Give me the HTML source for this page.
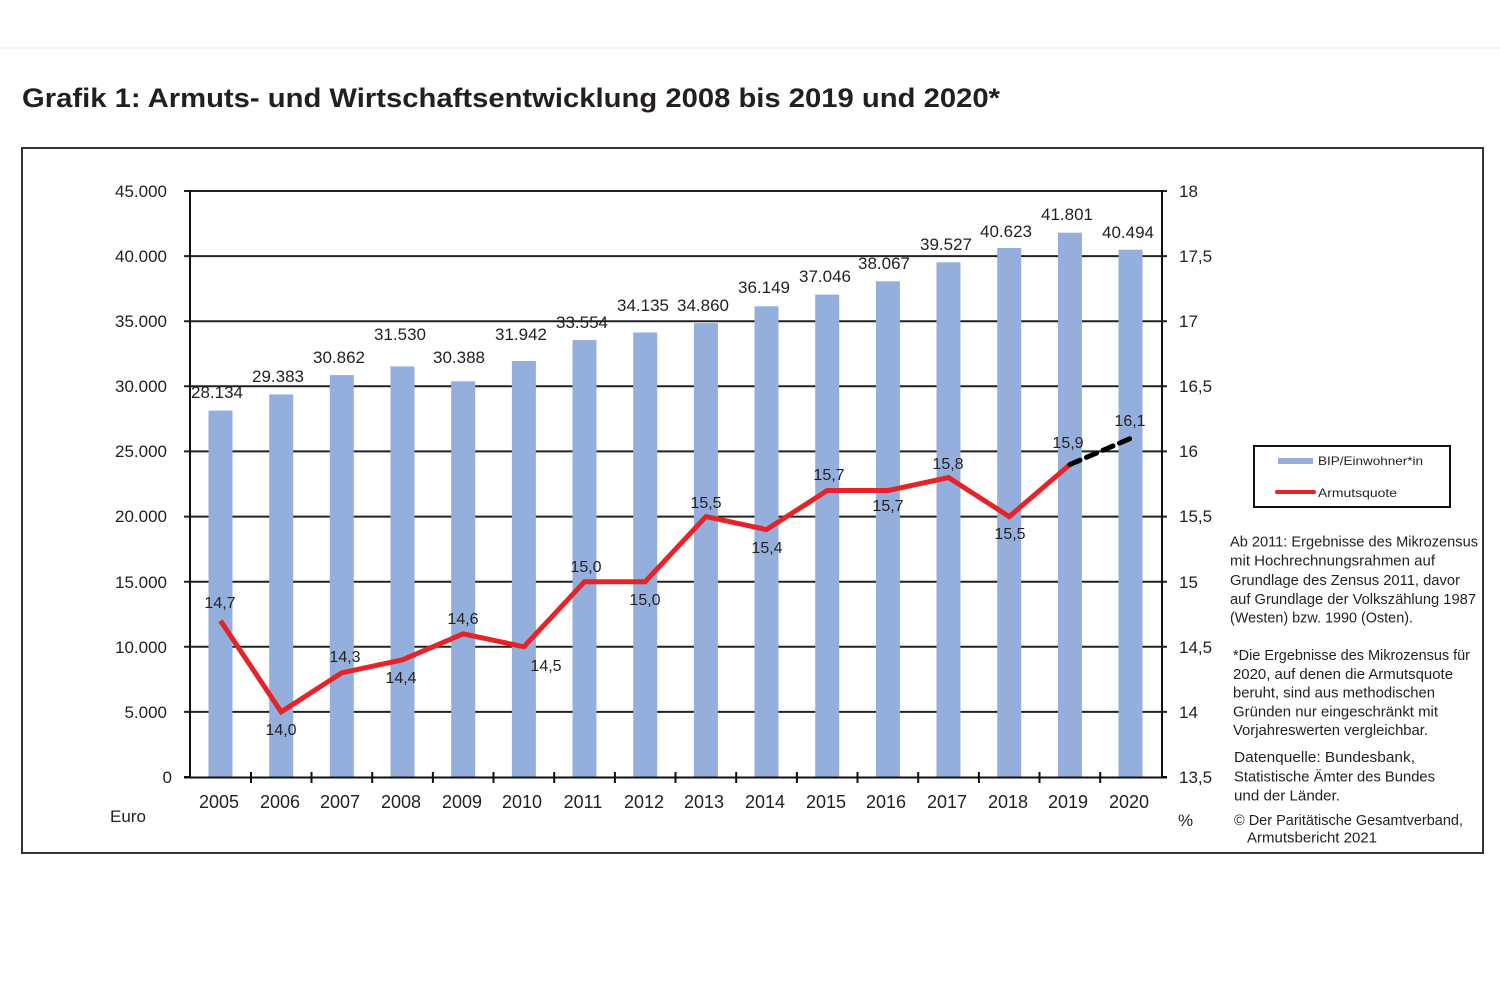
<!DOCTYPE html>
<html>
<head>
<meta charset="utf-8">
<style>
html,body{margin:0;padding:0;background:#fff;}
svg{display:block;}
text{font-family:"Liberation Sans",sans-serif;fill:#231f20;}
.ax{font-size:17px;}
.yr{font-size:18px;}
.val{font-size:17px;}
.pct{font-size:16px;fill:#2a3444;}
.note{font-size:14.5px;}
.leg{font-size:12px;}
</style>
</head>
<body>
<svg width="1500" height="998" viewBox="0 0 1500 998" xmlns="http://www.w3.org/2000/svg">
<rect x="0" y="0" width="1500" height="998" fill="#fff"/>
<line x1="0" y1="48" x2="1500" y2="48" stroke="#f6f6f6" stroke-width="2"/>
<!-- Title -->
<text x="22" y="107" font-size="27" font-weight="bold" textLength="978" lengthAdjust="spacingAndGlyphs">Grafik 1: Armuts- und Wirtschaftsentwicklung 2008 bis  2019 und 2020*</text>
<!-- Outer box -->
<rect x="22" y="148" width="1461" height="705" fill="none" stroke="#333" stroke-width="2"/>

<!-- gridlines -->
<g stroke="#222" stroke-width="2">
<line x1="184" y1="191" x2="1167" y2="191"/>
<line x1="184" y1="256.1" x2="1167" y2="256.1"/>
<line x1="184" y1="321.2" x2="1167" y2="321.2"/>
<line x1="184" y1="386.3" x2="1167" y2="386.3"/>
<line x1="184" y1="451.4" x2="1167" y2="451.4"/>
<line x1="184" y1="516.6" x2="1167" y2="516.6"/>
<line x1="184" y1="581.7" x2="1167" y2="581.7"/>
<line x1="184" y1="646.8" x2="1167" y2="646.8"/>
<line x1="184" y1="711.9" x2="1167" y2="711.9"/>
</g>

<!-- bars -->
<g fill="#94afdb">
<rect x="208.5" y="410.6" width="24" height="366.4"/>
<rect x="269.2" y="394.4" width="24" height="382.6"/>
<rect x="329.8" y="375.1" width="24" height="401.9"/>
<rect x="390.5" y="366.4" width="24" height="410.6"/>
<rect x="451.2" y="381.3" width="24" height="395.7"/>
<rect x="511.9" y="361.0" width="24" height="416.0"/>
<rect x="572.5" y="340.1" width="24" height="436.9"/>
<rect x="633.2" y="332.5" width="24" height="444.5"/>
<rect x="693.9" y="323.1" width="24" height="453.9"/>
<rect x="754.5" y="306.3" width="24" height="470.7"/>
<rect x="815.2" y="294.6" width="24" height="482.4"/>
<rect x="875.9" y="281.3" width="24" height="495.7"/>
<rect x="936.5" y="262.3" width="24" height="514.7"/>
<rect x="997.2" y="248.0" width="24" height="529.0"/>
<rect x="1057.9" y="232.7" width="24" height="544.3"/>
<rect x="1118.5" y="249.7" width="24" height="527.3"/>
</g>

<!-- axes -->
<g stroke="#111" stroke-width="2">
<line x1="190" y1="190" x2="190" y2="778"/>
<line x1="1162" y1="190" x2="1162" y2="778"/>
<line x1="184" y1="777.5" x2="1167" y2="777.5"/>
<line x1="184" y1="777" x2="190" y2="777"/>
<line x1="1162" y1="777" x2="1167" y2="777"/>
</g>
<g stroke="#111" stroke-width="2">
<line x1="251" y1="772" x2="251" y2="783"/>
<line x1="311.5" y1="772" x2="311.5" y2="783"/>
<line x1="372.2" y1="772" x2="372.2" y2="783"/>
<line x1="432.9" y1="772" x2="432.9" y2="783"/>
<line x1="493.5" y1="772" x2="493.5" y2="783"/>
<line x1="554.2" y1="772" x2="554.2" y2="783"/>
<line x1="614.9" y1="772" x2="614.9" y2="783"/>
<line x1="675.5" y1="772" x2="675.5" y2="783"/>
<line x1="736.2" y1="772" x2="736.2" y2="783"/>
<line x1="796.9" y1="772" x2="796.9" y2="783"/>
<line x1="857.5" y1="772" x2="857.5" y2="783"/>
<line x1="918.2" y1="772" x2="918.2" y2="783"/>
<line x1="978.9" y1="772" x2="978.9" y2="783"/>
<line x1="1039.5" y1="772" x2="1039.5" y2="783"/>
<line x1="1100.2" y1="772" x2="1100.2" y2="783"/>
</g>

<!-- left axis labels -->
<g class="ax" text-anchor="end">
<text x="167" y="197">45.000</text>
<text x="167" y="262">40.000</text>
<text x="167" y="327">35.000</text>
<text x="167" y="392">30.000</text>
<text x="167" y="457">25.000</text>
<text x="167" y="522">20.000</text>
<text x="167" y="588">15.000</text>
<text x="167" y="653">10.000</text>
<text x="167" y="718">5.000</text>
<text x="172" y="783">0</text>
</g>
<text x="110" y="822" class="ax">Euro</text>

<!-- right axis labels -->
<g class="ax">
<text x="1179" y="197">18</text>
<text x="1179" y="262">17,5</text>
<text x="1179" y="327">17</text>
<text x="1179" y="392">16,5</text>
<text x="1179" y="457">16</text>
<text x="1179" y="522">15,5</text>
<text x="1179" y="588">15</text>
<text x="1179" y="653">14,5</text>
<text x="1179" y="718">14</text>
<text x="1179" y="783">13,5</text>
</g>
<text x="1178" y="826" class="ax">%</text>

<!-- year labels -->
<g class="yr" text-anchor="middle">
<text x="219" y="808">2005</text>
<text x="280" y="808">2006</text>
<text x="340" y="808">2007</text>
<text x="401" y="808">2008</text>
<text x="462" y="808">2009</text>
<text x="522" y="808">2010</text>
<text x="583" y="808">2011</text>
<text x="644" y="808">2012</text>
<text x="704" y="808">2013</text>
<text x="765" y="808">2014</text>
<text x="826" y="808">2015</text>
<text x="886" y="808">2016</text>
<text x="947" y="808">2017</text>
<text x="1008" y="808">2018</text>
<text x="1068" y="808">2019</text>
<text x="1129" y="808">2020</text>
</g>

<!-- bar value labels -->
<g class="val" text-anchor="middle">
<text x="217" y="398">28.134</text>
<text x="278" y="382">29.383</text>
<text x="339" y="363">30.862</text>
<text x="400" y="340">31.530</text>
<text x="459" y="363">30.388</text>
<text x="521" y="340">31.942</text>
<text x="582" y="328">33.554</text>
<text x="643" y="311">34.135</text>
<text x="703" y="311">34.860</text>
<text x="764" y="293">36.149</text>
<text x="825" y="282">37.046</text>
<text x="884" y="269">38.067</text>
<text x="946" y="250">39.527</text>
<text x="1006" y="237">40.623</text>
<text x="1067" y="220">41.801</text>
<text x="1128" y="238">40.494</text>
</g>

<!-- poverty line -->
<polyline fill="none" stroke="#e52329" stroke-width="5" stroke-linejoin="miter" points="220.5,620.7 281.2,711.9 341.8,672.8 402.5,659.8 463.2,633.8 523.9,646.8 584.5,581.7 645.2,581.7 705.9,516.6 766.5,529.6 827.2,490.5 887.9,490.5 948.5,477.5 1009.2,516.6 1069.9,464.5"/>
<line x1="1069.9" y1="464.5" x2="1130.5" y2="438.4" stroke="#000" stroke-width="5" stroke-linecap="round" stroke-dasharray="11 7"/>

<!-- percent labels -->
<g class="pct" text-anchor="middle">
<text x="220" y="608">14,7</text>
<text x="281" y="735">14,0</text>
<text x="345" y="662">14,3</text>
<text x="401" y="683">14,4</text>
<text x="463" y="624">14,6</text>
<text x="546" y="671">14,5</text>
<text x="586" y="572">15,0</text>
<text x="645" y="605">15,0</text>
<text x="706" y="508">15,5</text>
<text x="767" y="553">15,4</text>
<text x="829" y="480">15,7</text>
<text x="888" y="511">15,7</text>
<text x="948" y="469">15,8</text>
<text x="1010" y="539">15,5</text>
<text x="1068" y="448">15,9</text>
<text x="1130" y="426">16,1</text>
</g>

<!-- legend -->
<rect x="1254" y="446" width="196" height="61" fill="#fff" stroke="#111" stroke-width="2"/>
<rect x="1278" y="458" width="35" height="6" fill="#94afdb"/>
<text x="1318" y="465" class="leg" textLength="105" lengthAdjust="spacingAndGlyphs">BIP/Einwohner*in</text>
<line x1="1277" y1="492" x2="1314" y2="492" stroke="#e52329" stroke-width="4" stroke-linecap="round"/>
<text x="1318" y="497" class="leg" textLength="79" lengthAdjust="spacingAndGlyphs">Armutsquote</text>

<!-- notes -->
<g class="note">
<text x="1230" y="546.5" textLength="248" lengthAdjust="spacingAndGlyphs">Ab 2011: Ergebnisse des  Mikrozensus</text>
<text x="1230" y="565.5" textLength="205" lengthAdjust="spacingAndGlyphs">mit Hochrechnungsrahmen auf</text>
<text x="1230" y="585" textLength="230" lengthAdjust="spacingAndGlyphs">Grundlage des  Zensus 2011, davor</text>
<text x="1230" y="604" textLength="246" lengthAdjust="spacingAndGlyphs">auf Grundlage der Volkszählung 1987</text>
<text x="1230" y="622.5" textLength="183" lengthAdjust="spacingAndGlyphs">(Westen) bzw. 1990 (Osten).</text>
<text x="1233" y="660" textLength="237" lengthAdjust="spacingAndGlyphs">*Die Ergebnisse des Mikrozensus für</text>
<text x="1233" y="679" textLength="220" lengthAdjust="spacingAndGlyphs">2020, auf denen die Armutsquote</text>
<text x="1233" y="697.5" textLength="202" lengthAdjust="spacingAndGlyphs">beruht, sind aus methodischen</text>
<text x="1233" y="716.5" textLength="205" lengthAdjust="spacingAndGlyphs">Gründen nur eingeschränkt mit</text>
<text x="1233" y="735" textLength="195" lengthAdjust="spacingAndGlyphs">Vorjahreswerten vergleichbar.</text>
<text x="1234" y="762" textLength="181" lengthAdjust="spacingAndGlyphs">Datenquelle: Bundesbank,</text>
<text x="1234" y="781.5" textLength="201" lengthAdjust="spacingAndGlyphs">Statistische Ämter des Bundes</text>
<text x="1234" y="800.5" textLength="106" lengthAdjust="spacingAndGlyphs">und der Länder.</text>
<text x="1234" y="825" textLength="229" lengthAdjust="spacingAndGlyphs">© Der Paritätische Gesamtverband,</text>
<text x="1247" y="842.5" textLength="130" lengthAdjust="spacingAndGlyphs">Armutsbericht 2021</text>
</g>
</svg>
</body>
</html>
